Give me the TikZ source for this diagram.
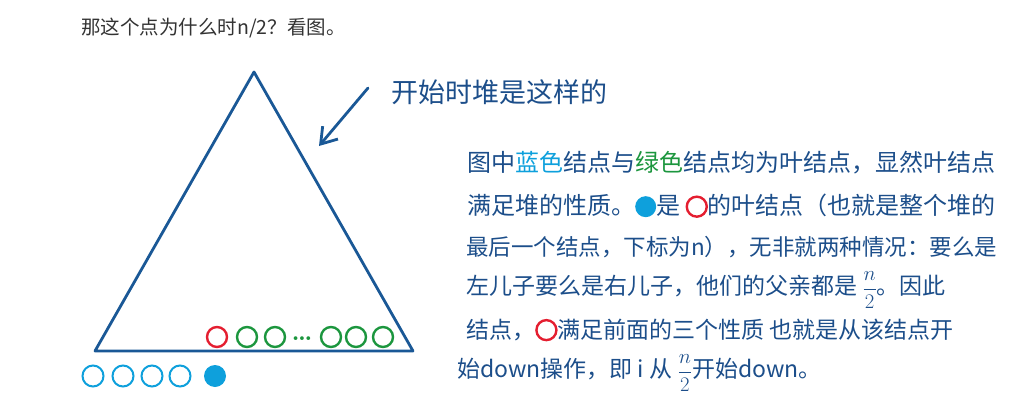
\documentclass[tikz,border=0pt]{standalone}
\usepackage{fontspec}
\newfontfamily\cjk{Noto Sans CJK SC}
\usetikzlibrary{arrows.meta}
\definecolor{heapblue}{RGB}{26,88,150}
\definecolor{inkblue}{RGB}{28,78,138}
\definecolor{leafcyan}{RGB}{14,160,220}
\definecolor{leafgreen}{RGB}{28,150,62}
\definecolor{lastred}{RGB}{228,30,48}
\definecolor{titlegray}{RGB}{51,51,51}
\newcommand{\redring}{\tikz[baseline=-8pt]\draw[lastred,line width=2.4pt] (0,0) circle[radius=10pt];}
\newcommand{\cyandot}{\tikz[baseline=-8pt]\fill[leafcyan] (0,0) circle[radius=10.5pt];}
\newcommand{\halfn}{{\fontsize{20}{20}\selectfont\ensuremath{\displaystyle\frac{n}{2}}}}
\begin{document}
\begin{tikzpicture}[x=1pt,y=-1pt,
  leaf/.style={circle,line width=2.4pt,minimum size=20pt,inner sep=0pt},
  hand/.style={anchor=west,inner sep=0pt,text=inkblue,font=\cjk\fontsize{23}{23}\selectfont}]
\useasboundingbox (0,0) rectangle (1028,415);
\node[anchor=west,inner sep=0pt,text=titlegray,font=\cjk\fontsize{19.5}{19.5}\selectfont] (title) at (81,28) {那这个点为什么时n/2？看图。};

\coordinate (apex) at (254,72);
\coordinate (baseleft) at (95,351);
\coordinate (baseright) at (413,351);
\draw[heapblue,line width=2.8pt,line join=round] (apex) -- (baseleft) -- (baseright) -- cycle;

\node[leaf,draw=lastred] (last) at (217,337) {};
\node[leaf,draw=leafgreen] (g1) at (247,337) {};
\node[leaf,draw=leafgreen] (g2) at (275,337) {};
\node[anchor=base,inner sep=0pt,text=leafgreen,font=\fontsize{26}{26}\selectfont\bfseries] (gdots) at (302,340) {\ldots};
\node[leaf,draw=leafgreen] (g3) at (331,337) {};
\node[leaf,draw=leafgreen] (g4) at (356,337) {};
\node[leaf,draw=leafgreen] (g5) at (383,337) {};

\node[leaf,draw=leafcyan,line width=2pt,minimum size=21pt] (c1) at (93,376) {};
\node[leaf,draw=leafcyan,line width=2pt,minimum size=21pt] (c2) at (123,376) {};
\node[leaf,draw=leafcyan,line width=2pt,minimum size=21pt] (c3) at (152,376) {};
\node[leaf,draw=leafcyan,line width=2pt,minimum size=21pt] (c4) at (180,376) {};
\node[leaf,fill=leafcyan,minimum size=22pt] (lastleaf) at (215,376) {};

\node[hand,font=\cjk\fontsize{27}{27}\selectfont] (caption) at (391,92) {开始时堆是这样的};
\coordinate (arrowstart) at (368,88);
\coordinate (arrowtip) at (319,146);
\draw[heapblue,line width=2.8pt,line cap=round,-{Straight Barb[length=15pt,width=20pt,line width=2.8pt]}] (arrowstart) -- (arrowtip);

\node[hand,font=\cjk\fontsize{24}{24}\selectfont] (line1) at (467,163) {图中\textcolor{leafcyan}{蓝色}结点与\textcolor{leafgreen}{绿色}结点均为叶结点，显然叶结点};
\node[hand,font=\cjk\fontsize{24}{24}\selectfont] (line2) at (467,206) {满足堆的性质。\cyandot 是 \redring 的叶结点（也就是整个堆的};
\node[hand,font=\cjk\fontsize{22.5}{22.5}\selectfont] (line3) at (466,247) {最后一个结点，下标为n），无非就两种情况：要么是};
\node[hand] (line4) at (466,290) {左儿子要么是右儿子，他们的父亲都是 \halfn。因此};
\node[hand] (line5) at (466,330) {结点，\redring 满足前面的三个性质 也就是从该结点开};
\node[hand] (line6) at (457,373) {始down操作，即 i 从 \halfn 开始down。};
\end{tikzpicture}
\end{document}
